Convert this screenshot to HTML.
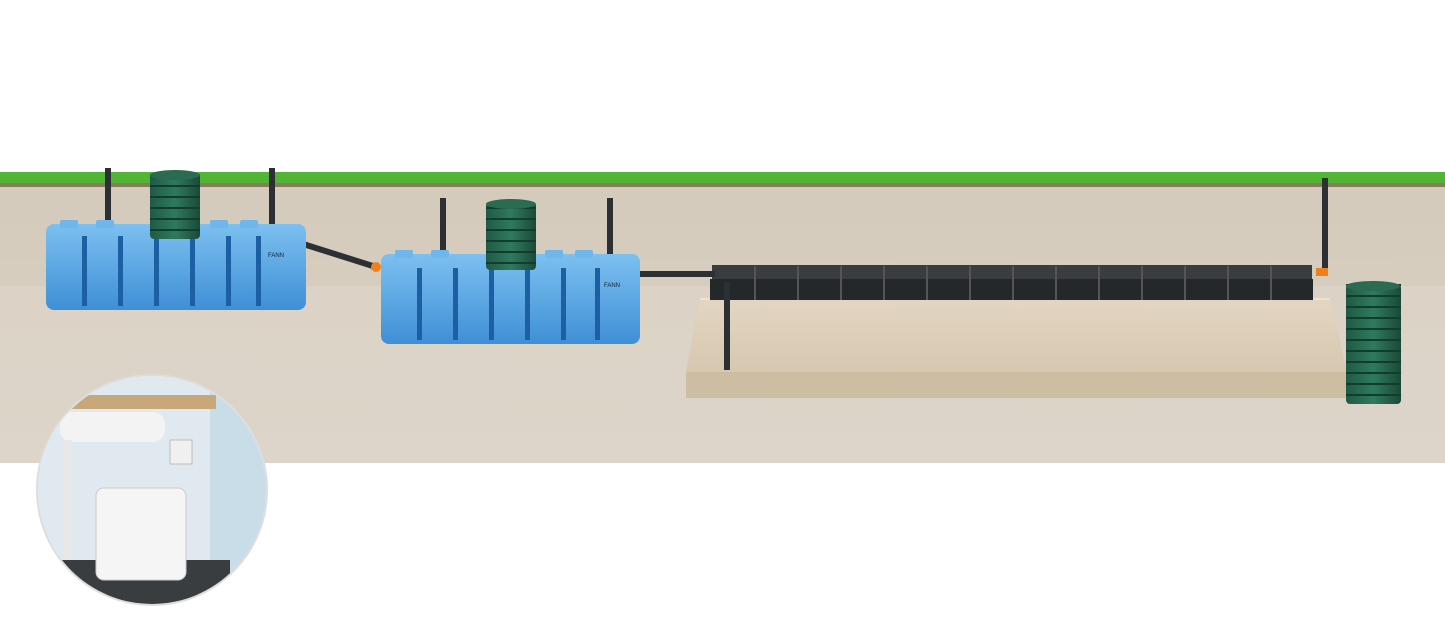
<!DOCTYPE html>
<html><head><meta charset="utf-8"><style>
html,body{margin:0;padding:0;background:#fff;width:1445px;height:626px;overflow:hidden}
</style></head><body>
<svg width="1445" height="626" viewBox="0 0 1445 626" xmlns="http://www.w3.org/2000/svg">
<defs>
<linearGradient id="soil" x1="0" y1="0" x2="0" y2="1">
<stop offset="0" stop-color="#d6ccbe"/><stop offset="0.4" stop-color="#dcd3c6"/><stop offset="1" stop-color="#ddd5ca"/>
</linearGradient>
<linearGradient id="blue" x1="0" y1="0" x2="0" y2="1">
<stop offset="0" stop-color="#7cc0f0"/><stop offset="1" stop-color="#3f8fd6"/>
</linearGradient>
<linearGradient id="green" x1="0" y1="0" x2="1" y2="0">
<stop offset="0" stop-color="#1f5a45"/><stop offset="0.5" stop-color="#2f7a5e"/><stop offset="1" stop-color="#1a4a38"/>
</linearGradient>
<linearGradient id="sand" x1="0" y1="0" x2="0" y2="1">
<stop offset="0" stop-color="#e3d6c2"/><stop offset="1" stop-color="#d2c2a9"/>
</linearGradient>
<pattern id="rings" width="10" height="11" patternUnits="userSpaceOnUse">
<rect width="10" height="11" fill="none"/><rect y="9" width="10" height="2" fill="#123c2e"/>
</pattern>
<clipPath id="circ"><circle cx="152" cy="490" r="114"/></clipPath>
</defs>
<rect x="0" y="186" width="1445" height="277" fill="url(#soil)"/>
<rect x="0" y="186" width="1445" height="100" fill="#d3c9ba" opacity="0.6"/>
<rect x="0" y="172" width="1445" height="13" fill="#52b535"/>
<rect x="0" y="183" width="1445" height="4" fill="#8a7a60"/>
<polygon points="700,298 1330,298 1347,372 1347,398 686,398 686,372" fill="url(#sand)"/>
<rect x="686" y="372" width="661" height="26" fill="#cdbda2"/>
<line x1="700" y1="299" x2="1330" y2="299" stroke="#eee3d2" stroke-width="2"/>
<rect x="712" y="265" width="600" height="14" fill="#3a3d40"/>
<rect x="710" y="279" width="603" height="21" fill="#25282b"/>
<g stroke="#555" stroke-width="2">
<line x1="755" y1="266" x2="755" y2="300"/><line x1="798" y1="266" x2="798" y2="300"/><line x1="841" y1="266" x2="841" y2="300"/><line x1="884" y1="266" x2="884" y2="300"/><line x1="927" y1="266" x2="927" y2="300"/><line x1="970" y1="266" x2="970" y2="300"/><line x1="1013" y1="266" x2="1013" y2="300"/><line x1="1056" y1="266" x2="1056" y2="300"/><line x1="1099" y1="266" x2="1099" y2="300"/><line x1="1142" y1="266" x2="1142" y2="300"/><line x1="1185" y1="266" x2="1185" y2="300"/><line x1="1228" y1="266" x2="1228" y2="300"/><line x1="1271" y1="266" x2="1271" y2="300"/>
</g>
<g stroke="#2c2f33" stroke-width="6" fill="none">
<line x1="300" y1="243" x2="376" y2="267"/>
<line x1="636" y1="274" x2="715" y2="274"/>
<line x1="727" y1="282" x2="727" y2="370"/>
<line x1="1325" y1="178" x2="1325" y2="272"/>
<line x1="108" y1="168" x2="108" y2="232"/>
<line x1="272" y1="168" x2="272" y2="232"/>
<line x1="443" y1="198" x2="443" y2="262"/>
<line x1="610" y1="198" x2="610" y2="262"/>
</g>
<circle cx="376" cy="267" r="5" fill="#f07f1e"/>
<rect x="1316" y="268" width="12" height="8" fill="#f07f1e"/>
<rect x="46" y="224" width="260" height="86" rx="8" fill="url(#blue)"/>
<g fill="#6fb6ec"><rect x="60" y="220" width="18" height="8" rx="2"/><rect x="96" y="220" width="18" height="8" rx="2"/><rect x="210" y="220" width="18" height="8" rx="2"/><rect x="240" y="220" width="18" height="8" rx="2"/></g>
<g fill="#1d5fa3">
<rect x="82" y="236" width="5" height="70"/><rect x="118" y="236" width="5" height="70"/><rect x="154" y="236" width="5" height="70"/><rect x="190" y="236" width="5" height="70"/><rect x="226" y="236" width="5" height="70"/><rect x="256" y="236" width="5" height="70"/>
</g>
<text x="268" y="257" font-family="Liberation Sans,sans-serif" font-size="6" fill="#123">FANN</text>
<rect x="150" y="173" width="50" height="66" rx="4" fill="url(#green)"/>
<rect x="150" y="173" width="50" height="66" fill="url(#rings)"/>
<ellipse cx="175" cy="175" rx="25" ry="5" fill="#2a6b52"/>
<rect x="381" y="254" width="259" height="90" rx="8" fill="url(#blue)"/>
<g fill="#6fb6ec"><rect x="395" y="250" width="18" height="8" rx="2"/><rect x="431" y="250" width="18" height="8" rx="2"/><rect x="545" y="250" width="18" height="8" rx="2"/><rect x="575" y="250" width="18" height="8" rx="2"/></g>
<g fill="#1d5fa3">
<rect x="417" y="268" width="5" height="72"/><rect x="453" y="268" width="5" height="72"/><rect x="489" y="268" width="5" height="72"/><rect x="525" y="268" width="5" height="72"/><rect x="561" y="268" width="5" height="72"/><rect x="595" y="268" width="5" height="72"/>
</g>
<text x="604" y="287" font-family="Liberation Sans,sans-serif" font-size="6" fill="#123">FANN</text>
<rect x="486" y="202" width="50" height="68" rx="4" fill="url(#green)"/>
<rect x="486" y="202" width="50" height="68" fill="url(#rings)"/>
<ellipse cx="511" cy="204" rx="25" ry="5" fill="#2a6b52"/>
<rect x="1346" y="284" width="55" height="120" rx="4" fill="url(#green)"/>
<rect x="1346" y="284" width="55" height="120" fill="url(#rings)"/>
<ellipse cx="1373" cy="286" rx="27" ry="5" fill="#2a6b52"/>
<circle cx="152" cy="490" r="115" fill="#fff" stroke="#ddd" stroke-width="2"/>
<g clip-path="url(#circ)">
<rect x="30" y="370" width="250" height="240" fill="#dfe9ef"/>
<rect x="210" y="370" width="70" height="240" fill="#c9dde8"/>
<rect x="40" y="395" width="176" height="14" fill="#c8a77a"/>
<rect x="60" y="412" width="105" height="30" rx="12" fill="#f3f3f3"/>
<rect x="30" y="560" width="200" height="50" fill="#3a3d40"/>
<rect x="96" y="488" width="90" height="92" rx="8" fill="#f5f5f5" stroke="#ccc"/>
<rect x="170" y="440" width="22" height="24" fill="#f0f0f0" stroke="#bbb"/>
<rect x="64" y="440" width="8" height="120" fill="#e8e8e8"/>
</g>
</svg>
</body></html>
